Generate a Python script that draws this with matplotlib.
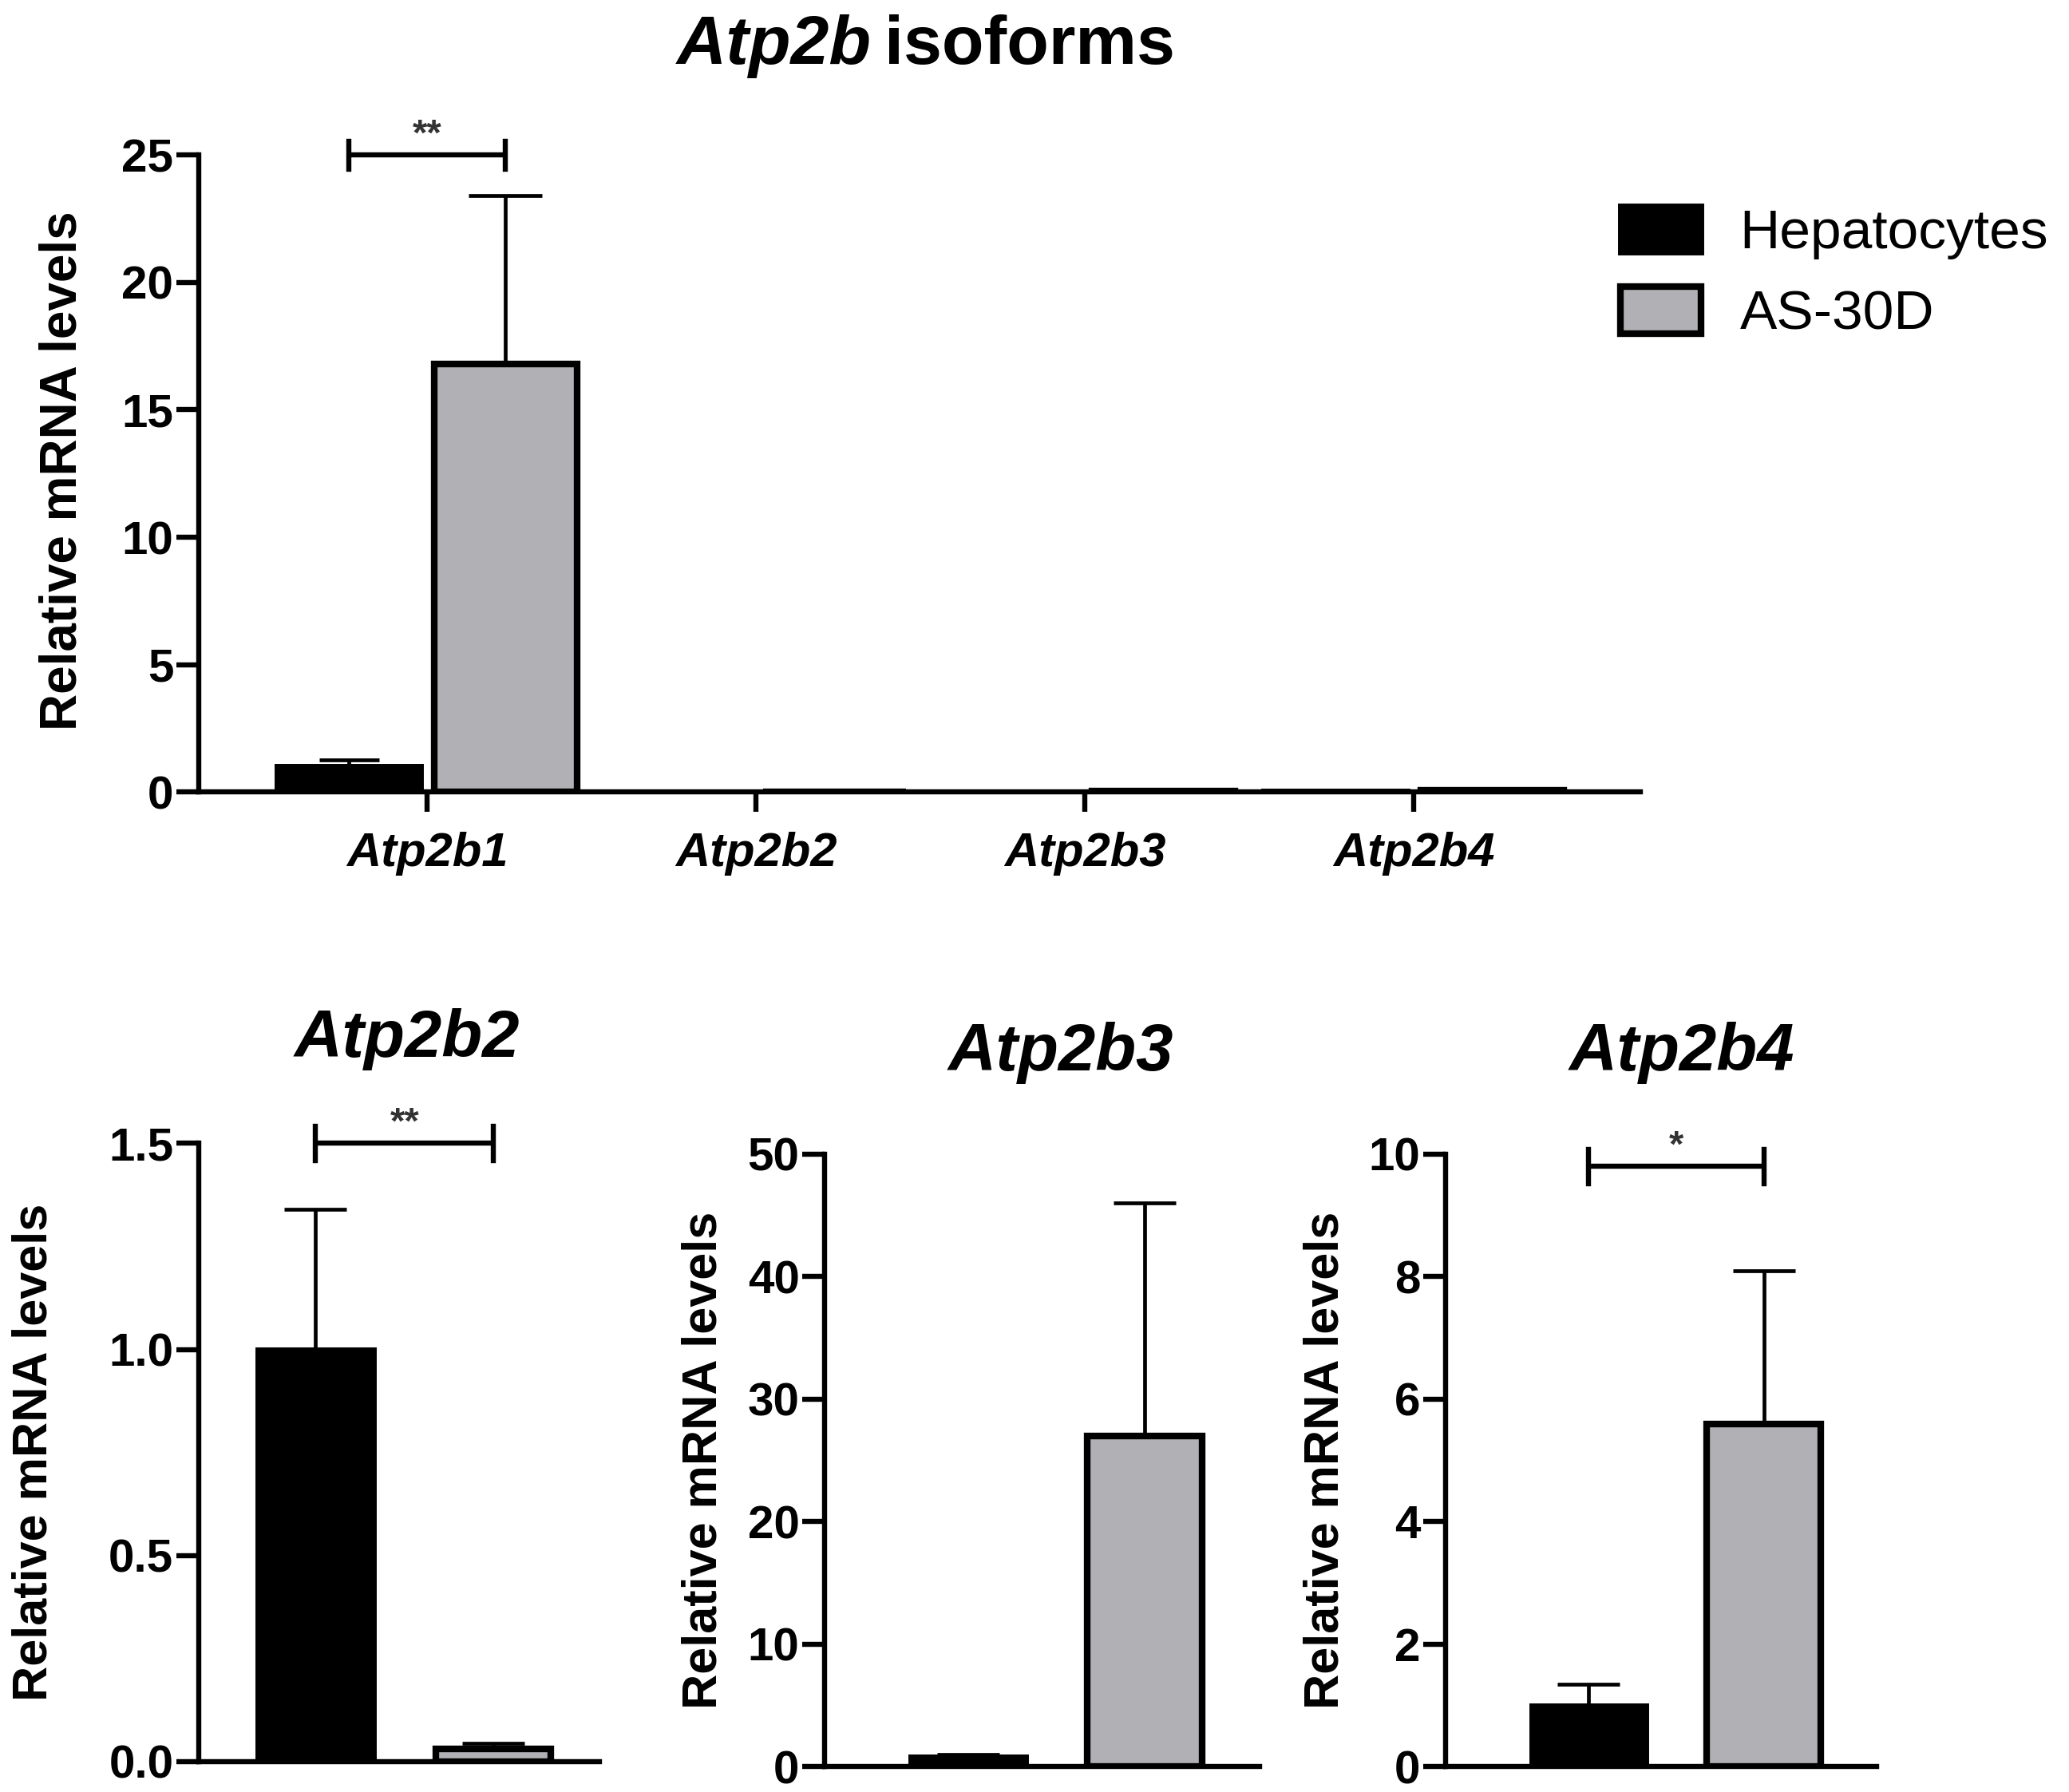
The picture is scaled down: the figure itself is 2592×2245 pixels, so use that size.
import numpy as np
import matplotlib
matplotlib.use("Agg")
import matplotlib.pyplot as plt

plt.rcParams["font.family"] = ["Liberation Sans", "DejaVu Sans"]

# =====================================================
# DATOS
# =====================================================

isoforms = ["Atp2b1", "Atp2b2", "Atp2b3", "Atp2b4"]
groups = ["Hepatocytes", "AS-30D"]

# panel superior (todas las isoformas)
hep_all = [1.0, 0.003, 0.002, 0.02]
hep_all_err = [0.25, 0.0, 0.0, 0.0]
as_all = [16.8, 0.001, 0.02, 0.08]
as_all_err = [6.6, 0.0, 0.0, 0.0]

# paneles inferiores (cada isoforma)
panel_genes = ["Atp2b2", "Atp2b3", "Atp2b4"]
panel_means = [[1.0, 0.03], [0.8, 27.0], [1.0, 5.6]]
panel_errs = [[0.34, 0.015], [0.2, 19.0], [0.35, 2.5]]
panel_ymax = [1.5, 50, 10]
panel_yticks = [[0.0, 0.5, 1.0, 1.5], [0, 10, 20, 30, 40, 50], [0, 2, 4, 6, 8, 10]]
panel_ticklabels = [["0.0", "0.5", "1.0", "1.5"], None, None]
panel_sig = ["**", None, "*"]
panel_sig_y = [1.5, None, 9.8]

colors = ["black", "#b1b0b5"]

W, H = 1560.0, 1351.0  # coordenadas de referencia
LW = 4.6


def fx(x):
    return x / W


def fy(y):
    return 1 - y / H


def estilo(ax):
    ax.spines["top"].set_visible(False)
    ax.spines["right"].set_visible(False)
    ax.spines["left"].set_linewidth(LW)
    ax.spines["bottom"].set_linewidth(LW)
    ax.tick_params(axis="y", length=20, width=LW, labelsize=42, pad=3)
    for t in ax.get_yticklabels():
        t.set_fontweight("bold")


def corchete(ax, x0, x1, y, h, texto, size):
    ax.plot([x0, x1], [y, y], color="black", lw=LW, clip_on=False,
            solid_capstyle="butt")
    for x in (x0, x1):
        ax.plot([x, x], [y - h, y + h], color="black", lw=LW, clip_on=False)
    ax.annotate(texto, xy=((x0 + x1) / 2, y), xytext=(0, 2),
                textcoords="offset points", ha="center", va="bottom",
                fontsize=size, fontweight="bold", color="#333333",
                annotation_clip=False)


def barras_error(ax, xs, medias, errores, cap):
    ax.errorbar(xs, medias, yerr=[np.zeros(len(xs)), errores], fmt="none",
                ecolor="black", elinewidth=3.4, capsize=cap, capthick=3.4,
                zorder=1)


fig = plt.figure(figsize=(25.92, 22.45), dpi=100)

# =====================================================
# PANEL SUPERIOR
# =====================================================

ax = fig.add_axes([fx(150), fy(597), fx(1237 - 150), (597 - 117) / H])
x = np.arange(len(isoforms))
off = 0.238
bw = 0.435
b1 = ax.bar(x - off, hep_all, bw, color=colors[0], edgecolor="black",
            linewidth=5, label=groups[0], zorder=2)
b2 = ax.bar(x + off, as_all, bw, color=colors[1], edgecolor="black",
            linewidth=6, label=groups[1], zorder=2)
barras_error(ax, x - off, hep_all, hep_all_err, 27)
barras_error(ax, x + off, as_all, as_all_err, 33)
ax.set_xlim(-0.694, 3.69)
ax.set_ylim(0, 25)
ax.set_yticks([0, 5, 10, 15, 20, 25])
ax.set_xticks(x)
ax.set_xticklabels(isoforms, fontsize=43, fontweight="bold", style="italic")
ax.tick_params(axis="x", length=18, width=LW, pad=18)
estilo(ax)
ax.set_ylabel("Relative mRNA levels", fontsize=46, fontweight="bold")
ax.yaxis.set_label_coords(-0.078, 0.504)
corchete(ax, x[0] - off, x[0] + off, 25, 0.55, "**", 34)

fig.text(fx(657), fy(48), "Atp2b", fontsize=62, fontweight="bold",
         style="italic", ha="right", va="baseline")
fig.text(fx(667), fy(48), "isoforms", fontsize=62, fontweight="bold",
         ha="left", va="baseline")

fig.legend(handles=[b1, b2], labels=groups, loc="upper left",
           bbox_to_anchor=(fx(1222), fy(155)), frameon=False, fontsize=50,
           handlelength=1.45, handleheight=0.92, handletextpad=0.7,
           labelspacing=0.5, borderpad=0, borderaxespad=0)

# =====================================================
# PANELES INFERIORES
# =====================================================

rects = [
    (150, 452, 1328, 862, -0.657, 1.597, -0.355, 307, 797),
    (622, 950, 1332, 870, -0.81, 1.65, -0.226, 800, 807),
    (1090, 1415, 1332, 870, -0.818, 1.645, -0.225, 1268, 807),
]

for i, gene in enumerate(panel_genes):
    left, right, y0, y1, xl0, xl1, labx, tx, ty = rects[i]
    ax = fig.add_axes([fx(left), fy(y0), (right - left) / W, (y0 - y1) / H])
    xs = np.arange(2)
    ax.bar(xs, panel_means[i], 0.65, color=colors, edgecolor="black",
           linewidth=[5, 6], zorder=2)
    barras_error(ax, xs, panel_means[i], panel_errs[i], 28)
    ax.set_xlim(xl0, xl1)
    ax.set_ylim(0, panel_ymax[i])
    ax.set_yticks(panel_yticks[i])
    if panel_ticklabels[i] is not None:
        ax.set_yticklabels(panel_ticklabels[i])
    ax.set_xticks([])
    estilo(ax)
    ax.set_ylabel("Relative mRNA levels", fontsize=44, fontweight="bold")
    ax.yaxis.set_label_coords(labx, 0.5)
    if panel_sig[i] is not None:
        corchete(ax, xs[0], xs[1], panel_sig_y[i],
                 0.028 * panel_ymax[i], panel_sig[i], 34)
    fig.text(fx(tx), fy(ty), gene, fontsize=60, fontweight="bold",
             style="italic", ha="center", va="baseline")

plt.savefig("out.png", dpi=100)
